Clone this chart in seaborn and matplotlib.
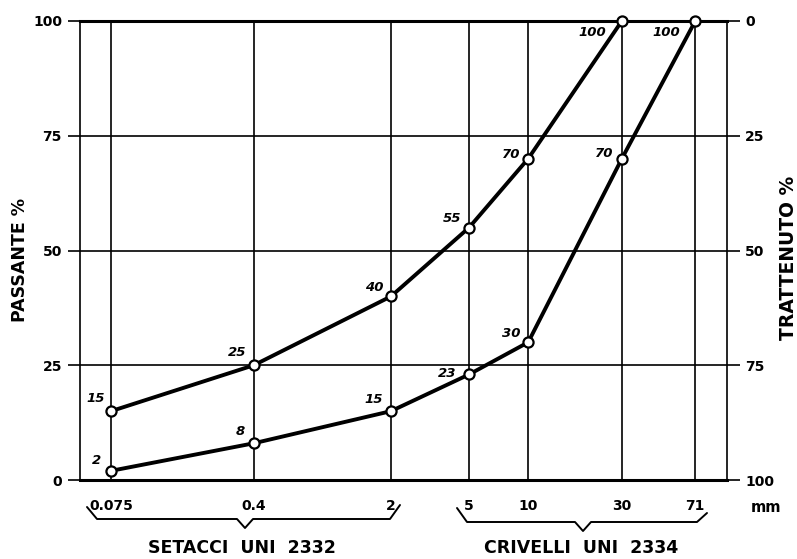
import numpy as np
import pandas as pd
import seaborn as sns
import matplotlib.pyplot as plt

# curva granulometrica: passante % per apertura setacci/crivelli (mm)
aperture = [0.075, 0.4, 2, 5, 10, 30, 71]
tick_labels = ['0.075', '0.4', '2', '5', '10', '30', '71']
superiore = [15, 25, 40, 55, 70, 100]        # fuso superiore (fino a 30 mm)
inferiore = [2, 8, 15, 23, 30, 70, 100]      # fuso inferiore (fino a 71 mm)
y_ticks = [0, 25, 50, 75, 100]

# spostamento delle etichette dei punti (pixel)
off_sup = [(-15, 13), (-17, 13), (-17, 9), (-17, 9), (-17, 4), (-30, -11)]
off_inf = [(-15, 10), (-13, 12), (-17, 12), (-22, 1), (-17, 9), (-18, 5), (-29, -12)]

sns.set_style('white')
plt.rcParams['font.family'] = ['DejaVu Sans']
plt.rcParams['text.color'] = 'black'
plt.rcParams['xtick.color'] = 'black'
plt.rcParams['ytick.color'] = 'black'
plt.rcParams['font.weight'] = 'bold'

df_sup = pd.DataFrame({'mm': aperture[:len(superiore)], 'passante': superiore})
df_inf = pd.DataFrame({'mm': aperture, 'passante': inferiore})

fig = plt.figure(figsize=(7.97, 5.59), dpi=100)
ax = fig.add_axes([80 / 797, 79 / 559, 647 / 797, 459 / 559])

stile = dict(color='black', linewidth=2.8, marker='o', markersize=7.3,
             markerfacecolor='white', markeredgecolor='black', markeredgewidth=1.6)
sns.lineplot(data=df_sup, x='mm', y='passante', ax=ax, zorder=5, clip_on=False, **stile)
sns.lineplot(data=df_inf, x='mm', y='passante', ax=ax, zorder=5, clip_on=False, **stile)

for df, offs in [(df_sup, off_sup), (df_inf, off_inf)]:
    for (x, y), (dx, dy) in zip(df[['mm', 'passante']].values, offs):
        ax.annotate(f'{y:g}', (x, y), xytext=(dx, dy), textcoords='offset pixels',
                    ha='center', va='center', fontsize=9.5, style='italic',
                    fontweight='bold', zorder=6)

ax.set_xscale('log')
xlo, xhi = 0.0521, 103
ax.set_xlim(xlo, xhi)
ax.set_ylim(0, 100)
ax.set_xticks(aperture)
ax.set_xticklabels(tick_labels, fontweight='bold')
ax.set_xticks([xlo, xhi], minor=True)
ax.set_xticklabels(['', ''], minor=True)
ax.set_yticks(y_ticks)
ax.set_yticklabels([str(v) for v in y_ticks], fontweight='bold')
ax.set_xlabel('')
ax.set_ylabel('')
ax.grid(True, which='major', color='black', linewidth=1.2)
ax.tick_params(axis='both', which='both', direction='out', length=9, width=1.2,
               color='black', labelsize=10, pad=4)
ax.tick_params(axis='x', which='major', pad=5)
for s in ax.spines.values():
    s.set_color('black')
    s.set_linewidth(1.2)
ax.spines['bottom'].set_linewidth(2.2)
ax.spines['top'].set_linewidth(2.2)

ax2 = ax.twinx()
ax2.set_ylim(100, 0)
ax2.set_yticks(y_ticks)
ax2.set_yticklabels([str(v) for v in y_ticks], fontweight='bold')
ax2.tick_params(axis='y', direction='out', length=9, width=1.2, labelsize=10, pad=4,
                color='black')
for s in ax2.spines.values():
    s.set_visible(False)
ax.spines['right'].set_visible(True)

fig.text(20 / 797, 1 - 260 / 559, 'PASSANTE %', rotation=90, ha='center', va='center',
         fontsize=12.5, fontweight='bold')
fig.text(788 / 797, 1 - 258 / 559, 'TRATTENUTO %', rotation=90, ha='center', va='center',
         fontsize=13.5, fontweight='bold')
fig.text(751 / 797, 1 - 507 / 559, 'mm', ha='left', va='center', fontsize=10.5,
         fontweight='bold')


def graffa(x0, y0, xl, xt, yt, x1, y1):
    px = lambda x: x / 797
    py = lambda y: 1 - y / 559
    xs = [x0, x0 + 10, xt - 8, xt, xt + 8, x1 - 10, x1]
    ys = [y0, xl, xl, yt, xl, xl, y1]
    fig.add_artist(plt.Line2D([px(v) for v in xs], [py(v) for v in ys],
                              color='black', linewidth=1.4))


graffa(87, 507, 519, 245, 528, 400, 505)
graffa(457, 508, 522, 583, 531, 707, 513)
fig.text(242 / 797, 1 - 548 / 559, 'SETACCI  UNI  2332', ha='center', va='center',
         fontsize=12.5, fontweight='bold')
fig.text(581 / 797, 1 - 548 / 559, 'CRIVELLI  UNI  2334', ha='center', va='center',
         fontsize=12.5, fontweight='bold')

fig.savefig('out.png', dpi=100, facecolor='white')
